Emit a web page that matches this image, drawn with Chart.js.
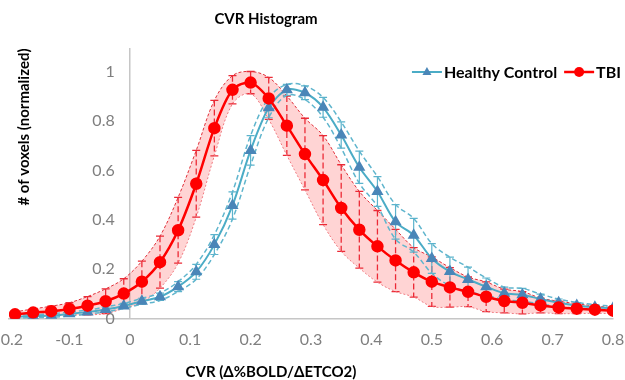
<!DOCTYPE html>
<html>
<head>
<meta charset="utf-8">
<script src="https://cdn.jsdelivr.net/npm/chart.js@4.4.1/dist/chart.umd.min.js"></script>
<style>
  html, body { margin: 0; padding: 0; background: #fff; }
</style>
</head>
<body>
<canvas id="cvrChart" width="625" height="380"></canvas>
<script>
// CVR bin centres (x values)
const cvrBins = [-0.19, -0.16, -0.13, -0.10, -0.07, -0.04, -0.01, 0.02, 0.05, 0.08,
                 0.11, 0.14, 0.17, 0.20, 0.23, 0.26, 0.29, 0.32, 0.35, 0.38,
                 0.41, 0.44, 0.47, 0.50, 0.53, 0.56, 0.59, 0.62, 0.65, 0.68,
                 0.71, 0.74, 0.77, 0.80];

// Healthy Control: mean and SD of normalised voxel counts
const hcMean = [0.008, 0.011, 0.013, 0.020, 0.027, 0.038, 0.052, 0.071, 0.089, 0.130,
                0.190, 0.300, 0.458, 0.681, 0.853, 0.926, 0.914, 0.855, 0.743, 0.613,
                0.515, 0.392, 0.338, 0.244, 0.191, 0.159, 0.130, 0.103, 0.097, 0.080,
                0.065, 0.054, 0.047, 0.043];
const hcSD = [0.006, 0.006, 0.007, 0.008, 0.008, 0.010, 0.010, 0.012, 0.015, 0.020,
              0.030, 0.040, 0.055, 0.060, 0.040, 0.022, 0.028, 0.040, 0.053, 0.065,
              0.060, 0.070, 0.068, 0.060, 0.058, 0.050, 0.035, 0.025, 0.026, 0.020,
              0.015, 0.012, 0.010, 0.008];

// TBI: mean and SD
const tbiMean = [0.018, 0.025, 0.031, 0.040, 0.053, 0.071, 0.102, 0.150, 0.229, 0.358,
                 0.546, 0.771, 0.926, 0.955, 0.891, 0.781, 0.666, 0.561, 0.448, 0.360,
                 0.293, 0.236, 0.188, 0.150, 0.127, 0.109, 0.089, 0.072, 0.065, 0.054,
                 0.046, 0.041, 0.037, 0.033];
const tbiSD = [0.010, 0.015, 0.020, 0.025, 0.037, 0.050, 0.060, 0.083, 0.105, 0.133,
               0.135, 0.112, 0.057, 0.045, 0.085, 0.120, 0.145, 0.180, 0.175, 0.155,
               0.145, 0.126, 0.100, 0.100, 0.080, 0.060, 0.060, 0.048, 0.045, 0.030,
               0.025, 0.020, 0.015, 0.012];

const xTicks = [-0.2, -0.1, 0, 0.1, 0.2, 0.3, 0.4, 0.5, 0.6, 0.7, 0.8];
const yTicks = [0, 0.2, 0.4, 0.6, 0.8, 1];

const chartTitle = 'CVR Histogram';
const xTitle = 'CVR (\u0394%BOLD/\u0394ETCO2)';
const yTitle = '# of voxels (normalized)';

const RED = '#ff0000';
const TEAL = '#4bacc6';
const AXIS_GREY = '#c6c6c6';
const FONT = 'Lato, "Open Sans", sans-serif';

const toPoints = (vals) => cvrBins.map((x, i) => ({ x: x, y: vals[i] }));
const plus = (m, s) => m.map((v, i) => v + s[i]);
const minus = (m, s) => m.map((v, i) => v - s[i]);
const fmt = (v) => String(+v.toFixed(2));

// error bar settings per series
const errorSeries = [
    { mean: tbiMean, sd: tbiSD, color: '#ec2a36', dash: [6, 3], width: 1.3 },
    { mean: hcMean, sd: hcSD, color: '#5bb3cc', dash: [], width: 1.2 }
];

const errorBars = {
    id: 'errorBars',
    beforeDatasetsDraw(chart) {
        const { ctx, chartArea, scales: { x, y } } = chart;
        ctx.save();
        ctx.beginPath();
        ctx.rect(chartArea.left, chartArea.top, chartArea.right - chartArea.left, chartArea.bottom - chartArea.top);
        ctx.clip();
        errorSeries.forEach(s => {
            ctx.strokeStyle = s.color;
            ctx.lineWidth = s.width;
            cvrBins.forEach((bin, i) => {
                const px = x.getPixelForValue(bin);
                const top = y.getPixelForValue(s.mean[i] + s.sd[i]);
                const bot = y.getPixelForValue(s.mean[i] - s.sd[i]);
                ctx.setLineDash(s.dash);
                ctx.beginPath();
                ctx.moveTo(px, top);
                ctx.lineTo(px, bot);
                ctx.stroke();
                ctx.setLineDash([]);
                ctx.beginPath();
                ctx.moveTo(px - 4, top); ctx.lineTo(px + 4, top);
                ctx.moveTo(px - 4, bot); ctx.lineTo(px + 4, bot);
                ctx.stroke();
            });
        });
        ctx.restore();
    }
};

function drawMarker(ctx, style, cx, cy, r, fill) {
    ctx.fillStyle = fill;
    ctx.beginPath();
    if (style === 'triangle') {
        ctx.moveTo(cx, cy - r);
        ctx.lineTo(cx + r * 0.9, cy + r * 0.6);
        ctx.lineTo(cx - r * 0.9, cy + r * 0.6);
        ctx.closePath();
    } else {
        ctx.arc(cx, cy, r, 0, Math.PI * 2);
    }
    ctx.fill();
}

// titles and legend, placed like the Excel original
const decor = {
    id: 'decor',
    afterDraw(chart) {
        const { ctx } = chart;
        ctx.save();
        ctx.fillStyle = '#000';
        ctx.font = 'bold 15px ' + FONT;
        ctx.textAlign = 'center';
        ctx.textBaseline = 'middle';
        ctx.fillText(chartTitle, 266, 19);
        ctx.fillText(xTitle, 271, 372);
        ctx.save();
        ctx.translate(24, 127);
        ctx.rotate(-Math.PI / 2);
        ctx.fillText(yTitle, 0, 0);
        ctx.restore();

        // legend
        const items = [4, 5].map(i => chart.data.datasets[i]);
        ctx.font = 'bold 16px ' + FONT;
        ctx.textAlign = 'left';
        const lineW = 30, gap = 2, itemGap = 7;
        const total = items.reduce((t, d) => t + lineW + gap + ctx.measureText(d.label).width, 0) + itemGap;
        let lx = 621 - total;
        const ly = 72;
        items.forEach(d => {
            ctx.strokeStyle = d.borderColor;
            ctx.lineWidth = d.borderWidth;
            ctx.beginPath();
            ctx.moveTo(lx, ly);
            ctx.lineTo(lx + lineW, ly);
            ctx.stroke();
            drawMarker(ctx, d.pointStyle, lx + lineW / 2, ly, d.pointRadius, d.pointBackgroundColor);
            ctx.fillStyle = '#000';
            ctx.fillText(d.label, lx + lineW + gap, ly + 1);
            lx += lineW + gap + ctx.measureText(d.label).width + itemGap;
        });
        ctx.restore();
    }
};

const ctx = document.getElementById('cvrChart').getContext('2d');
const cvrChart = new Chart(ctx, {
    type: 'line',
    data: {
        datasets: [
            {
                label: 'TBI +SD',
                data: toPoints(plus(tbiMean, tbiSD)),
                borderColor: '#e0303a',
                borderWidth: 1,
                borderDash: [3, 2],
                backgroundColor: 'rgba(255, 0, 0, 0.17)',
                fill: '+1',
                pointRadius: 0,
                tension: 0.35,
                order: 5
            },
            {
                label: 'TBI -SD',
                data: toPoints(minus(tbiMean, tbiSD)),
                borderColor: '#f07a80',
                borderWidth: 1,
                borderDash: [2, 2],
                fill: false,
                pointRadius: 0,
                tension: 0.35,
                order: 4
            },
            {
                label: 'HC +SD',
                data: toPoints(plus(hcMean, hcSD)),
                borderColor: '#5fb5cd',
                borderWidth: 1.5,
                borderDash: [5, 3],
                fill: false,
                pointRadius: 0,
                tension: 0.35,
                order: 3
            },
            {
                label: 'HC -SD',
                data: toPoints(minus(hcMean, hcSD)),
                borderColor: '#5fb5cd',
                borderWidth: 1.5,
                borderDash: [5, 3],
                fill: false,
                pointRadius: 0,
                tension: 0.35,
                order: 2
            },
            {
                label: 'Healthy Control',
                data: toPoints(hcMean),
                borderColor: TEAL,
                borderWidth: 2,
                pointStyle: 'triangle',
                pointRadius: 5,
                pointBackgroundColor: '#4a86b8',
                pointBorderColor: '#4a86b8',
                fill: false,
                tension: 0.3,
                order: 1
            },
            {
                label: 'TBI',
                data: toPoints(tbiMean),
                borderColor: RED,
                borderWidth: 2.5,
                pointStyle: 'circle',
                pointRadius: 5,
                pointBackgroundColor: RED,
                pointBorderColor: RED,
                fill: false,
                tension: 0.3,
                order: 0
            }
        ]
    },
    options: {
        responsive: false,
        animation: false,
        layout: { padding: { left: 9, right: 12, top: 48, bottom: 20 } },
        plugins: {
            legend: { display: false },
            tooltip: { enabled: false },
            filler: { drawTime: 'beforeDatasetsDraw' }
        },
        scales: {
            x: {
                type: 'linear',
                min: -0.2,
                max: 0.8,
                // only the grid line at CVR = 0 is shown: it is the value axis line
                grid: {
                    display: true,
                    drawTicks: false,
                    lineWidth: 1.5,
                    color: c => (c.tick && c.tick.value === 0 ? AXIS_GREY : 'rgba(0,0,0,0)')
                },
                border: { color: AXIS_GREY, width: 1.5 },
                afterBuildTicks: s => { s.ticks = xTicks.map(v => ({ value: v })); },
                ticks: { color: '#7f7f7f', font: { family: FONT, size: 16 }, padding: 11, maxRotation: 0, autoSkip: false, callback: fmt },
                afterFit: s => { s.paddingLeft = 0; s.paddingRight = 0; }
            },
            y: {
                type: 'linear',
                position: { x: -0.025 },
                min: 0,
                max: 1.095,
                grid: { display: false, drawTicks: false },
                border: { display: false },
                afterBuildTicks: s => { s.ticks = yTicks.map(v => ({ value: v })); },
                ticks: { color: '#7f7f7f', font: { family: FONT, size: 16 }, callback: fmt }
            }
        }
    },
    plugins: [errorBars, decor]
});
</script>
</body>
</html>
